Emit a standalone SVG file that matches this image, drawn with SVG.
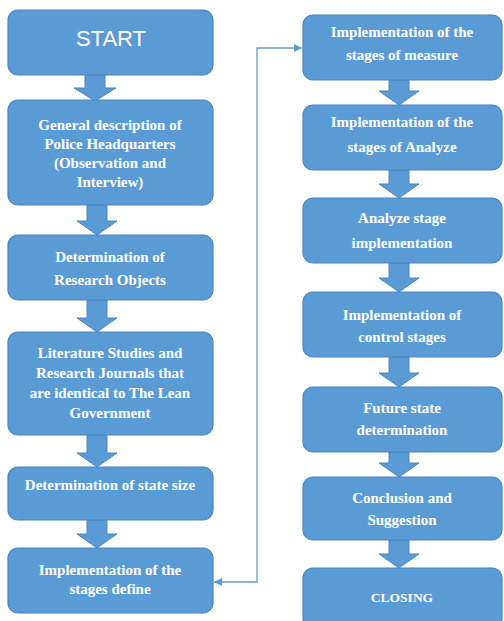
<svg xmlns="http://www.w3.org/2000/svg" width="504" height="621" viewBox="0 0 504 621">
<defs>
<style>
.box{fill:#5b9bd5;stroke:#4a86bf;stroke-width:1.2}
.arr{fill:#5b9bd5;stroke:#4a86bf;stroke-width:1}
.t{font-family:"Liberation Serif",serif;font-weight:bold;font-size:15px;fill:#fff;text-anchor:middle}
.s{font-family:"Liberation Sans",sans-serif;font-size:22px;fill:#fff;text-anchor:middle}
.ln{fill:none;stroke:#6f97c8;stroke-width:1.3}
</style>
<marker id="ah" viewBox="0 0 10 10" refX="10" refY="5" markerWidth="8" markerHeight="8" orient="auto-start-reverse" markerUnits="userSpaceOnUse">
<path d="M0,0 L10,5 L0,10 z" fill="#5b9bd5"/>
</marker>
</defs>
<rect width="504" height="621" fill="#fff"/>
<g id="connectors">
<path class="ln" d="M214,582 H257 V48 H302" marker-start="url(#ah)" marker-end="url(#ah)"/>
<polygon class="arr" points="85,75 105,75 105,88 116,88 95,101 74,88 85,88"/>
<polygon class="arr" points="87,205 107,205 107,221 117,221 97,235 77,221 87,221"/>
<polygon class="arr" points="87,300 107,300 107,318 117,318 97,332 77,318 87,318"/>
<polygon class="arr" points="87,435 107,435 107,453 117,453 97,467 77,453 87,453"/>
<polygon class="arr" points="87,520 107,520 107,534 117,534 97,548 77,534 87,534"/>
<polygon class="arr" points="389,80 409,80 409,91 419,91 399,105 379,91 389,91"/>
<polygon class="arr" points="389,170 409,170 409,184 419,184 399,198 379,184 389,184"/>
<polygon class="arr" points="389,263 409,263 409,278 419,278 399,292 379,278 389,278"/>
<polygon class="arr" points="389,357 409,357 409,373 419,373 399,387 379,373 389,373"/>
<polygon class="arr" points="389,452 409,452 409,463 419,463 399,477 379,463 389,463"/>
<polygon class="arr" points="389,540 409,540 409,554 419,554 399,568 379,554 389,554"/>
</g>
<g id="n-start"><rect class="box" x="8" y="10" width="205" height="65" rx="10"/><text class="s" x="111" y="46">START</text></g>
<g id="n-general"><rect class="box" x="8" y="100" width="205" height="105" rx="10"/>
<text class="t" x="110" y="130">General description of</text>
<text class="t" x="110" y="149">Police Headquarters</text>
<text class="t" x="110" y="168">(Observation and</text>
<text class="t" x="110" y="187">Interview)</text></g>
<g id="n-objects"><rect class="box" x="8" y="235" width="205" height="65" rx="10"/>
<text class="t" x="110" y="262">Determination of</text>
<text class="t" x="110" y="285">Research Objects</text></g>
<g id="n-literature"><rect class="box" x="8" y="332" width="205" height="103" rx="10"/>
<text class="t" x="110" y="358">Literature Studies and</text>
<text class="t" x="110" y="378">Research Journals that</text>
<text class="t" x="110" y="398">are identical to The Lean</text>
<text class="t" x="110" y="418">Government</text></g>
<g id="n-statesize"><rect class="box" x="8" y="467" width="205" height="53" rx="10"/>
<text class="t" x="110" y="490">Determination of state size</text></g>
<g id="n-define"><rect class="box" x="8" y="548" width="205" height="65" rx="10"/>
<text class="t" x="110" y="575">Implementation of the</text>
<text class="t" x="110" y="594">stages define</text></g>
<g id="n-measure"><rect class="box" x="303" y="15" width="199" height="65" rx="10"/>
<text class="t" x="402" y="37">Implementation of the</text>
<text class="t" x="402" y="60">stages of measure</text></g>
<g id="n-analyze"><rect class="box" x="303" y="105" width="199" height="65" rx="10"/>
<text class="t" x="402" y="127">Implementation of the</text>
<text class="t" x="402" y="152">stages of Analyze</text></g>
<g id="n-analyzeimpl"><rect class="box" x="303" y="198" width="199" height="65" rx="10"/>
<text class="t" x="402" y="223">Analyze stage</text>
<text class="t" x="402" y="248">implementation</text></g>
<g id="n-control"><rect class="box" x="303" y="292" width="199" height="65" rx="10"/>
<text class="t" x="402" y="320">Implementation of</text>
<text class="t" x="402" y="342">control stages</text></g>
<g id="n-future"><rect class="box" x="303" y="387" width="199" height="65" rx="10"/>
<text class="t" x="402" y="413">Future state</text>
<text class="t" x="402" y="435">determination</text></g>
<g id="n-conclusion"><rect class="box" x="303" y="477" width="199" height="63" rx="10"/>
<text class="t" x="402" y="503">Conclusion and</text>
<text class="t" x="402" y="525">Suggestion</text></g>
<g id="n-closing"><rect class="box" x="303" y="568" width="199" height="60" rx="10"/>
<text class="t" x="402" y="602" style="font-size:13.5px">CLOSING</text></g>
</svg>
